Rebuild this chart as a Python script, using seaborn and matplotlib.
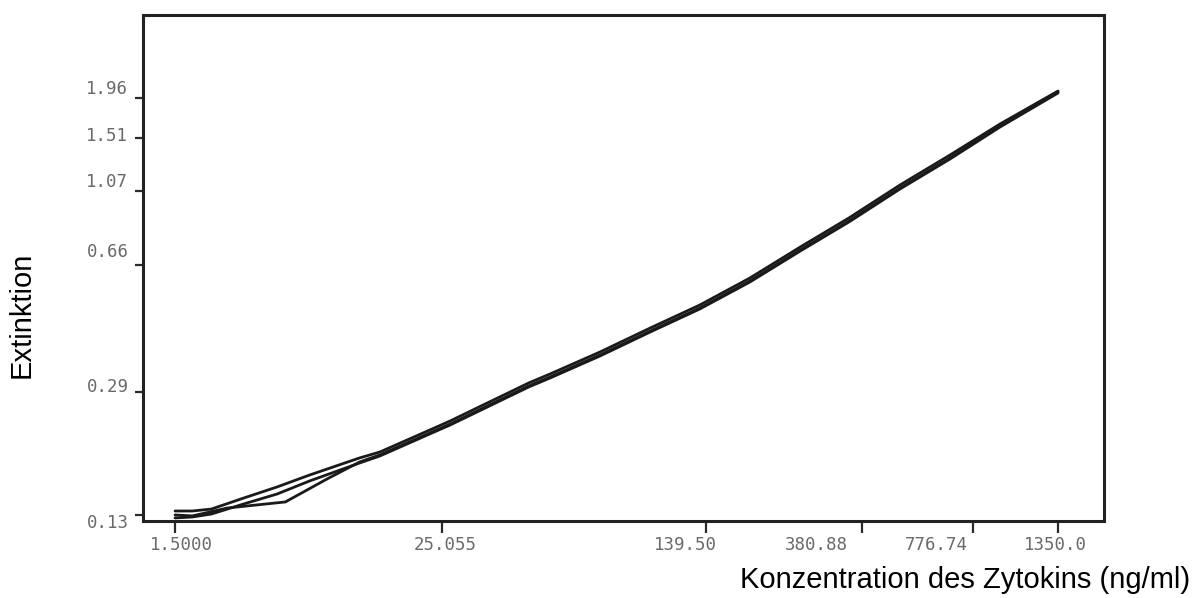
import numpy as np
import pandas as pd
import matplotlib
matplotlib.use("Agg")
import matplotlib.pyplot as plt
import matplotlib.transforms as mtransforms
from matplotlib.scale import FuncScale
import seaborn as sns

# ---------------- data ----------------
x_tick_values = [1.5, 25.055, 139.50, 380.88, 776.74, 1350.0]
x_tick_labels = ["1.5000", "25.055", "139.50", "380.88", "776.74", "1350.0"]
y_tick_values = [0.13, 0.29, 0.66, 1.07, 1.51, 1.96]
y_tick_labels = ["0.13", "0.29", "0.66", "1.07", "1.51", "1.96"]

conc_ab = [1.5, 1.8, 2.2, 3.1, 4.4, 6.2, 10.5, 13, 22, 26.4, 44, 50.6, 70, 97,
           134, 185, 256, 350, 486, 670, 926, 1350]
ext_a = [0.1334, 0.1334, 0.1351, 0.1452, 0.1560, 0.1686, 0.1884, 0.1958, 0.2259,
         0.2396, 0.3068, 0.3254, 0.3754, 0.4387, 0.5097, 0.6075, 0.7434, 0.8978,
         1.1127, 1.3526, 1.6550, 2.051]
ext_b = [0.1275, 0.1283, 0.1308, 0.1397, 0.1490, 0.1622, 0.1823, 0.1908, 0.2202,
         0.2334, 0.2989, 0.3170, 0.3658, 0.4275, 0.4967, 0.5919, 0.7244, 0.8747,
         1.0842, 1.3179, 1.6230, 2.025]
conc_c = [1.5, 1.8, 2.6, 4.8, 7.45, 10.5, 13, 22, 26.4, 44, 50.6, 70, 97, 134,
          185, 256, 350, 486, 670, 926, 1350]
ext_c = [0.1300, 0.1292, 0.1360, 0.1415, 0.1643, 0.1835, 0.1921, 0.2216, 0.2349,
         0.3009, 0.3191, 0.3682, 0.4302, 0.4999, 0.5958, 0.7291, 0.8804, 1.0912,
         1.3265, 1.6336, 2.038]

# ---------------- layout ----------------
W, H = 1195, 598
sns.set_theme(style="white")
plt.rcParams["font.family"] = ["Liberation Sans", "DejaVu Sans"]

fig = plt.figure(figsize=(W / 100, H / 100), dpi=100)
ax_l, ax_r, ax_t, ax_b = 143, 1104, 15, 521
ax = fig.add_axes([ax_l / W, 1 - ax_b / H, (ax_r - ax_l) / W, (ax_b - ax_t) / H])

# piecewise-logarithmic x scale, anchored at the tick marks
knot_pos = np.array([175, 442, 706, 862, 973, 1058], dtype=float)
knot_log = np.log10(np.array(x_tick_values))


def _pw(v, xs, ys):
    v = np.asarray(v, dtype=float)
    out = np.interp(v, xs, ys)
    s0 = (ys[1] - ys[0]) / (xs[1] - xs[0])
    s1 = (ys[-1] - ys[-2]) / (xs[-1] - xs[-2])
    out = np.where(v < xs[0], ys[0] + (v - xs[0]) * s0, out)
    out = np.where(v > xs[-1], ys[-1] + (v - xs[-1]) * s1, out)
    return out


def fwd(x):
    x = np.maximum(np.asarray(x, dtype=float), 1e-9)
    return _pw(np.log10(x), knot_log, knot_pos)


def inv(p):
    return 10 ** _pw(p, knot_pos, knot_log)


ax.set_xscale(FuncScale(ax, (fwd, inv)))
ax.set_yscale("log")

line_kw = dict(color="#1a1a1a", linewidth=2.0, estimator=None, sort=False, ax=ax)
sns.lineplot(x=conc_c, y=ext_c, **line_kw)
sns.lineplot(x=conc_ab, y=ext_b, **line_kw)
sns.lineplot(x=conc_ab, y=ext_a, **line_kw)

ax.set_xlim(1.07, 1820)
ax.set_ylim(0.1250, 3.363)

ax.set_xticks(x_tick_values)
ax.set_xticklabels(x_tick_labels)
ax.xaxis.set_minor_locator(matplotlib.ticker.NullLocator())
ax.set_yticks(y_tick_values)
ax.set_yticklabels(y_tick_labels)
ax.yaxis.set_minor_locator(matplotlib.ticker.NullLocator())

for lab in ax.get_xticklabels() + ax.get_yticklabels():
    lab.set_fontfamily("DejaVu Sans Mono")
    lab.set_fontsize(12.5)
    lab.set_color("#6a6a6a")

ax.tick_params(axis="x", direction="out", length=8.5, width=1.6, color="#2a2a2a",
               pad=2, bottom=True)
ax.tick_params(axis="y", direction="out", length=5.5, width=1.6, color="#2a2a2a",
               pad=5, left=True)

# the scanned labels sit a little off their tick marks
x_label_shift = [6, 3, -21, -46, -37, -3]
y_label_shift = [-6, 7, 15, 11, 4, 10.5]
for lab, dx in zip(ax.get_xticklabels(), x_label_shift):
    lab.set_transform(lab.get_transform() +
                      mtransforms.ScaledTranslation(dx / 100, 0, fig.dpi_scale_trans))
for lab, dy in zip(ax.get_yticklabels(), y_label_shift):
    lab.set_transform(lab.get_transform() +
                      mtransforms.ScaledTranslation(0, dy / 100, fig.dpi_scale_trans))

for sp in ax.spines.values():
    sp.set_visible(True)
    sp.set_color("#222222")
    sp.set_linewidth(2.2)

ax.set_xlabel("Konzentration des Zytokins (ng/ml)", fontsize=21, color="black",
              ha="right", va="center")
ax.xaxis.set_label_coords((1190 - ax_l) / (ax_r - ax_l), (ax_b - 580) / (ax_b - ax_t))
ax.set_ylabel("Extinktion", fontsize=21, color="black", va="center", ha="center")
ax.yaxis.set_label_coords((22 - ax_l) / (ax_r - ax_l), (ax_b - 315) / (ax_b - ax_t))

fig.savefig("out.png", dpi=100, facecolor="white")
